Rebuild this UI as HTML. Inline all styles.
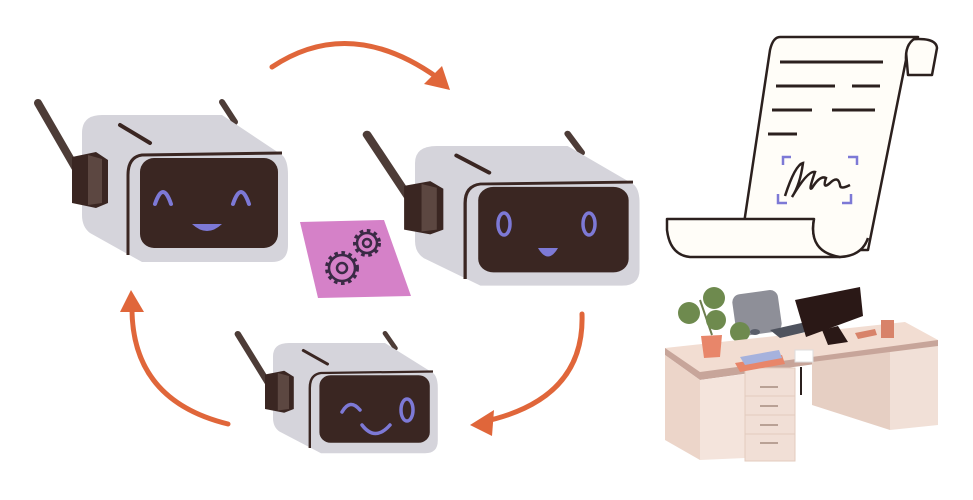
<!DOCTYPE html>
<html><head><meta charset="utf-8"><style>html,body{margin:0;padding:0;background:#fff}svg{display:block}</style></head>
<body>
<svg width="973" height="500" viewBox="0 0 973 500" xmlns="http://www.w3.org/2000/svg">
<defs>
<g id="robot">
  <line x1="-44" y1="-12" x2="8" y2="78" stroke="#4d3c37" stroke-width="8" stroke-linecap="round"/>
  <line x1="140" y1="-13" x2="153" y2="7" stroke="#4d3c37" stroke-width="6" stroke-linecap="round"/>
  <path d="M0,18 Q0,0 20,0 L140,0 L200,40 Q206,45 206,60 L206,130 Q206,147 190,147 L60,147 L8,118 Q0,112 0,100 Z" fill="#d5d4db"/>
  <line x1="38" y1="10" x2="68" y2="28" stroke="#3a2622" stroke-width="4" stroke-linecap="round"/>
  <path d="M200,38 L60,40 Q46,42 46,60 L46,140" fill="none" stroke="#3a2622" stroke-width="3"/>
  <rect x="58" y="43" width="138" height="90" rx="14" fill="#3a2622"/>
  <path d="M-10,42 L14,37 L26,45 L26,88 L14,93 L-10,88 Z" fill="#3a2622"/>
  <path d="M6,40 L20,44 L20,88 L6,90 Z" fill="#5c4741"/>
</g>
</defs>

<!-- arrows -->
<g fill="none" stroke="#e0663a" stroke-width="5" stroke-linecap="round">
  <path d="M272,67 Q350,15 438,78"/>
  <path d="M582,314 Q585,400 482,422"/>
  <path d="M228,424 Q130,400 132,304"/>
</g>
<g fill="#e0663a">
  <polygon points="450,90 424,84 442,66"/>
  <polygon points="470,425 494,410 492,436"/>
  <polygon points="131,290 120,312 144,312"/>
</g>

<!-- robot 1 -->
<use href="#robot" transform="translate(82,115)"/>
<g fill="none" stroke="#7d79d6" stroke-width="4" stroke-linecap="round">
  <path d="M155,204 Q163,180 171,204"/>
  <path d="M233,204 Q241,180 249,204"/>
</g>
<path d="M192,224 Q207,238 222,224 Z" fill="#7d79d6"/>

<!-- robot 2 -->
<use href="#robot" transform="translate(415,146) scale(1.09 0.95)"/>
<g fill="none" stroke="#7d79d6" stroke-width="3.5">
  <ellipse cx="504" cy="224" rx="6" ry="11"/>
  <ellipse cx="589" cy="224" rx="6" ry="11"/>
</g>
<path d="M538,248 Q548,265 558,248 Z" fill="#7d79d6"/>

<!-- robot 3 -->
<use href="#robot" transform="translate(273,343) scale(0.8 0.75)"/>
<g fill="none" stroke="#7d79d6" stroke-width="3.5" stroke-linecap="round">
  <path d="M342,412 Q350,398 360,410"/>
  <ellipse cx="407" cy="410" rx="6" ry="11"/>
  <path d="M362,425 Q375,442 390,425"/>
</g>

<!-- purple card -->
<polygon points="300,222 384,220 411,296 318,298" fill="#d581c8"/>
<g fill="none" stroke="#3a2a45" stroke-width="2.5">
  <circle cx="342" cy="268" r="13"/><circle cx="342" cy="268" r="5"/>
  <circle cx="367" cy="243" r="10"/><circle cx="367" cy="243" r="4"/>
</g>
<g stroke="#3a2a45" stroke-width="4" stroke-dasharray="3.5 3.5" fill="none">
  <circle cx="342" cy="268" r="15"/>
  <circle cx="367" cy="243" r="12"/>
</g>

<!-- scroll -->
<g fill="#fffdf8" stroke="#2b201e" stroke-width="2.5" stroke-linejoin="round">
  <path d="M905,40 Q936,36 937,48 L932,75 L908,75 Z"/>
  <path d="M780,37 L918,37 Q905,42 906,60 L868,250 L740,250 L770,50 Q773,37 780,37 Z"/>
  <path d="M667,219 L814,219 Q808,250 840,257 L690,257 Q670,255 667,230 Z"/>
  <path d="M814,219 Q808,252 840,257 Q862,256 868,238"/>
</g>
<g stroke="#2b201e" stroke-width="3">
  <line x1="780" y1="62" x2="883" y2="62"/>
  <line x1="776" y1="86" x2="835" y2="86"/><line x1="852" y1="86" x2="880" y2="86"/>
  <line x1="772" y1="110" x2="812" y2="110"/><line x1="832" y1="110" x2="875" y2="110"/>
  <line x1="768" y1="134" x2="797" y2="134"/>
</g>
<g fill="none" stroke="#7d79d6" stroke-width="2.5">
  <path d="M783,165 L783,157 L791,157"/><path d="M848,157 L857,157 L857,165"/>
  <path d="M778,194 L778,203 L787,203"/><path d="M842,203 L851,203 L851,194"/>
</g>
<path d="M785,196 Q795,165 803,163 Q800,185 792,197 Q808,170 815,172 Q808,192 812,188 Q820,175 826,178 Q822,190 830,183 Q838,175 840,185 Q840,190 850,185" fill="none" stroke="#2b201e" stroke-width="2.5"/>

<!-- desk -->
<g>
  <rect x="734" y="292" width="46" height="42" rx="8" fill="#8e8f98" transform="rotate(-8 757 313)"/>
  <line x1="712" y1="335" x2="700" y2="300" stroke="#6d7d4f" stroke-width="2"/>
  <circle cx="689" cy="313" r="11" fill="#6e8a4e"/><circle cx="714" cy="298" r="11" fill="#6e8a4e"/>
  <circle cx="716" cy="320" r="10" fill="#6e8a4e"/><circle cx="740" cy="332" r="10" fill="#6e8a4e"/>
  <polygon points="665,348 905,322 938,340 938,347 700,378 665,355" fill="#f2ddd2"/>
  <polygon points="665,348 700,372 938,340 938,347 700,380 665,355" fill="#c7a59a"/>
  <polygon points="665,355 700,380 700,460 665,440" fill="#ecd5c9"/>
  <polygon points="700,380 745,374 745,458 700,460" fill="#f4e4dc"/>
  <rect x="745" y="368" width="50" height="93" fill="#f1dfd6" stroke="#e3cbbe"/>
  <g stroke="#b9a195" stroke-width="2"><line x1="760" y1="387" x2="778" y2="387"/><line x1="760" y1="406" x2="778" y2="406"/><line x1="760" y1="425" x2="778" y2="425"/><line x1="760" y1="443" x2="778" y2="443"/></g>
  <g stroke="#e3cbbe"><line x1="745" y1="396" x2="795" y2="396"/><line x1="745" y1="415" x2="795" y2="415"/><line x1="745" y1="434" x2="795" y2="434"/></g>
  <polygon points="812,362 890,352 890,430 812,405" fill="#e6cfc3"/>
  <polygon points="890,352 938,346 938,425 890,430" fill="#f1e0d7"/>
  <line x1="801" y1="367" x2="801" y2="395" stroke="#2b201e" stroke-width="2"/>
  <path d="M701,336 L722,335 L720,357 L704,358 Z" fill="#e8866a"/>
  <polygon points="770,330 806,322 814,330 780,338" fill="#4f535e"/>
  <polygon points="795,300 860,287 863,316 806,337" fill="#2a1816"/>
  <polygon points="822,330 828,345 848,342 838,326" fill="#2a1816"/>
  <polygon points="735,363 782,355 785,364 740,372" fill="#e8866a"/>
  <polygon points="740,357 779,350 782,358 745,365" fill="#a6b2dd"/>
  <rect x="795" y="350" width="18" height="12" fill="#fff" stroke="#ddd"/>
  <rect x="881" y="320" width="13" height="18" fill="#d8836a"/>
  <polygon points="855,333 875,329 877,335 858,339" fill="#d8836a"/>
  <ellipse cx="755" cy="332" rx="5" ry="3" fill="#5a5e6a"/>
</g>
</svg>
</body></html>
